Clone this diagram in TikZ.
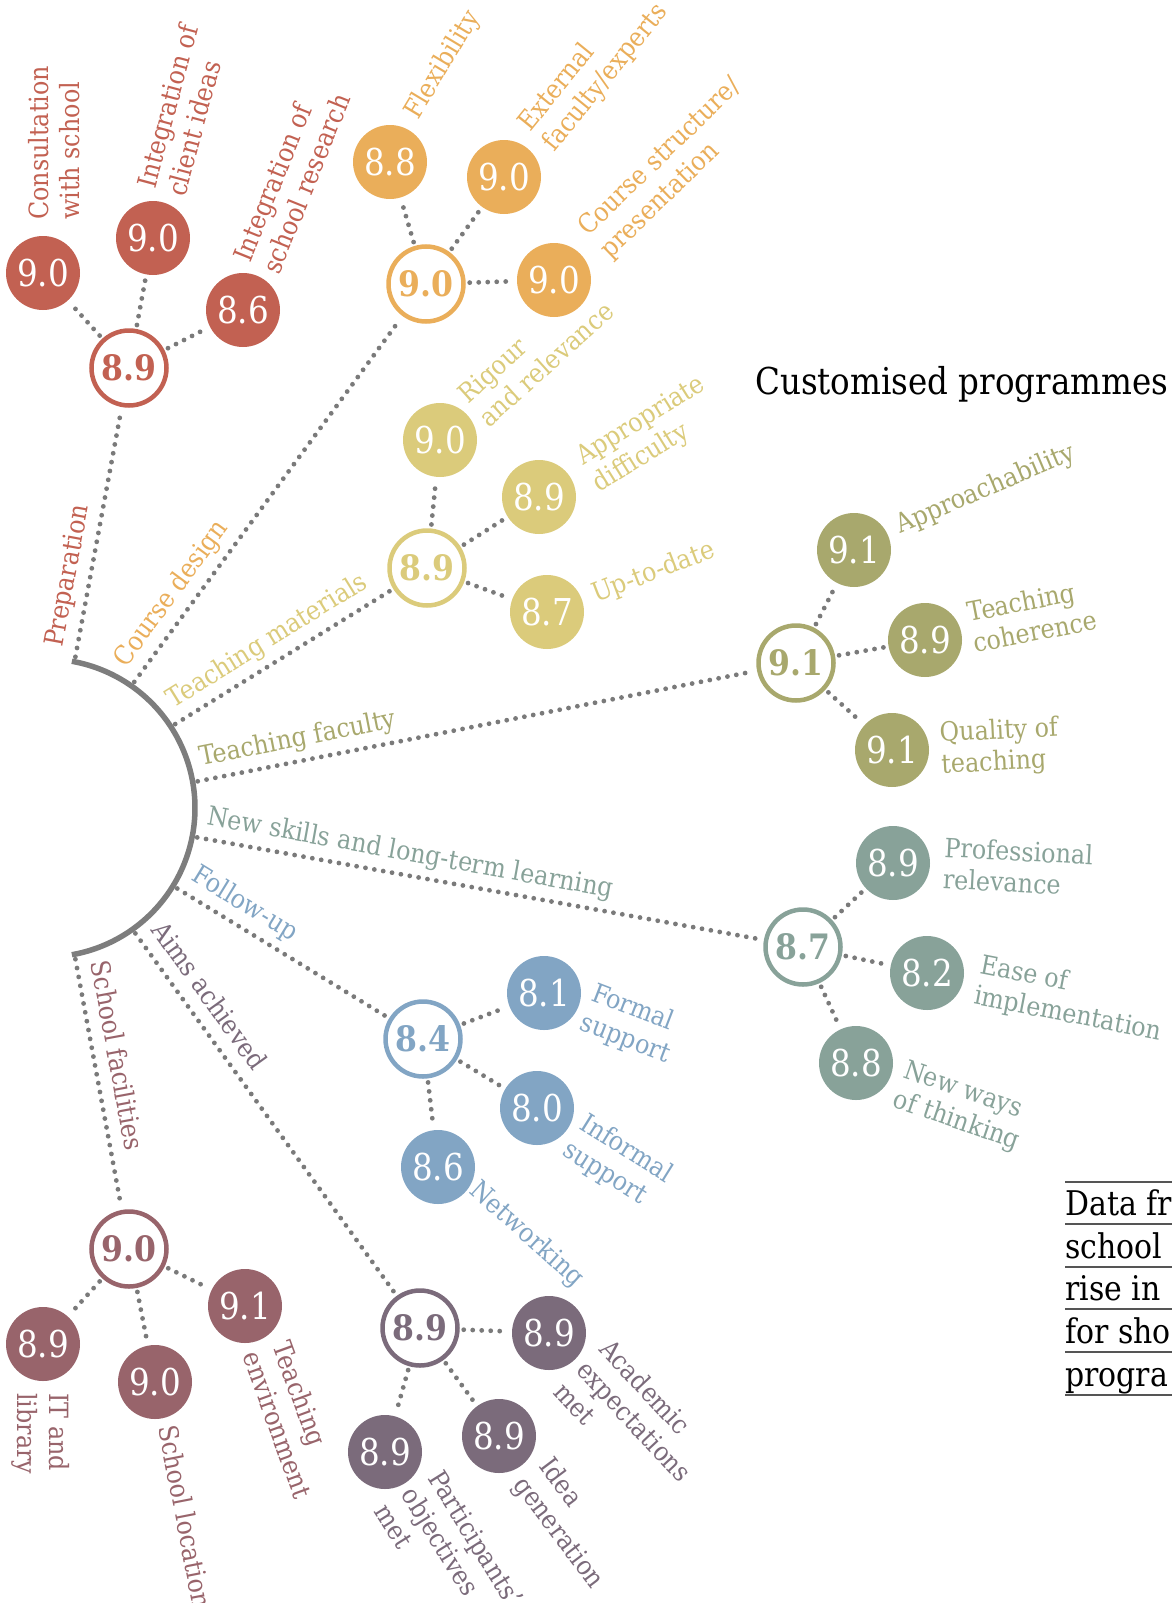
\documentclass[tikz,border=0pt]{standalone}
\usepackage{fontspec}
\setmainfont{DejaVu Serif}
\newfontfamily\labfont[FakeStretch=0.9]{DejaVu Serif}
\newfontfamily\numfontfam[FakeStretch=0.88]{DejaVu Serif}
\newfontfamily\hubfontfam[FakeStretch=0.9]{DejaVu Serif}
\newcommand\labsize{\fontsize{26.5}{31.5}\selectfont}
\newcommand\lab[1]{\begin{tabular}[t]{@{}l@{}}#1\end{tabular}}
\definecolor{cPrep}{HTML}{C26152}
\definecolor{cCourse}{HTML}{EAAE5A}
\definecolor{cMat}{HTML}{DBCB7B}
\definecolor{cFac}{HTML}{A8A86D}
\definecolor{cSkill}{HTML}{88A299}
\definecolor{cFollow}{HTML}{82A5C4}
\definecolor{cSchool}{HTML}{98646B}
\definecolor{cAims}{HTML}{7B6B7B}
\definecolor{dotgrey}{HTML}{7A7A7A}
\definecolor{arcgrey}{HTML}{7D7D7D}
\definecolor{rulegrey}{HTML}{555555}
\tikzset{
  dotline/.style={draw=dotgrey, line width=4.8pt, line cap=round, dash pattern=on 0pt off 9pt},
  twig/.style={dotline, shorten <=4pt, shorten >=4pt},
  limb/.style={dotline, shorten >=4pt},
  leaf/.style={circle, fill=#1, minimum size=74pt, inner sep=0pt, outer sep=0pt, text=white,
    font=\numfontfam\fontsize{37}{37}\selectfont},
  hubnode/.style={circle, draw=#1, line width=4.5pt, fill=white, minimum size=75pt, inner sep=0pt,
    text=#1, font=\hubfontfam\bfseries\fontsize{35}{35}\selectfont},
  lbl/.style={text=#1, font=\labfont\labsize, inner sep=0pt, anchor=base west},
  brlbl/.style={text=#1, font=\labfont\labsize, sloped, pos=0, anchor=south west,
    inner xsep=4pt, inner ysep=5pt, text depth=7pt},
  arcline/.style={draw=arcgrey, line width=5.5pt},
  rulel/.style={draw=rulegrey, line width=1.6pt},
}
\begin{document}
\begin{tikzpicture}[x=1pt, y=-1pt]
\useasboundingbox (0,0) rectangle (1172,1603);
\clip (0,0) rectangle (1172,1603);

% central arc
\draw[arcline] plot[domain=-80:80, samples=80, smooth] ({46+149*cos(\x)}, {808+149*sin(\x)});

% start points on the arc
\coordinate (s1) at (75.4,656.8);
\coordinate (s2) at (134.3,681.9);
\coordinate (s3) at (175.2,724.1);
\coordinate (s4) at (197.7,781.3);
\coordinate (s5) at (197.2,837.4);
\coordinate (s6) at (177.3,888.5);
\coordinate (s7) at (135.4,933.4);
\coordinate (s8) at (75.4,959.2);

% ---------- Preparation ----------
\node[hubnode=cPrep] (hA) at (129,368) {8.9};
\node[leaf=cPrep] (a1) at (43,273) {9.0};
\node[leaf=cPrep] (a2) at (153,238) {9.0};
\node[leaf=cPrep] (a3) at (243,310) {8.6};
\draw[twig] (hA) -- (a1);
\draw[twig] (hA) -- (a2);
\draw[twig] (hA) -- (a3);
\draw[limb] (s1) -- node[brlbl=cPrep] {Preparation} (hA);
\node[lbl=cPrep, rotate=90] (ta1) at (48,220) {\lab{Consultation\\with school}};
\node[lbl=cPrep, rotate=75] (ta2) at (155,190) {\lab{Integration of\\client ideas}};
\node[lbl=cPrep, rotate=68] (ta3) at (250,264) {\lab{Integration of\\school research}};

% ---------- Course design ----------
\node[hubnode=cCourse] (hB) at (426,284) {9.0};
\node[leaf=cCourse] (b1) at (390,162) {8.8};
\node[leaf=cCourse] (b2) at (504,177) {9.0};
\node[leaf=cCourse] (b3) at (554,280) {9.0};
\draw[twig] (hB) -- (b1);
\draw[twig] (hB) -- (b2);
\draw[twig] (hB) -- (b3);
\draw[limb] (s2) -- node[brlbl=cCourse] {Course design} (hB);
\node[lbl=cCourse, rotate=59] (tb1) at (418,121) {\lab{Flexibility}};
\node[lbl=cCourse, rotate=51] (tb2) at (530,133) {\lab{External\\faculty/experts}};
\node[lbl=cCourse, rotate=44] (tb3) at (588,237) {\lab{Course structure/\\presentation}};

% ---------- Teaching materials ----------
\node[hubnode=cMat] (hC) at (427,568) {8.9};
\node[leaf=cMat] (c1) at (440,440) {9.0};
\node[leaf=cMat] (c2) at (539,497) {8.9};
\node[leaf=cMat] (c3) at (547,612) {8.7};
\draw[twig] (hC) -- (c1);
\draw[twig] (hC) -- (c2);
\draw[twig] (hC) -- (c3);
\draw[limb] (s3) -- node[brlbl=cMat] {Teaching materials} (hC);
\node[lbl=cMat, rotate=42] (tc1) at (468,405) {\lab{Rigour\\and relevance}};
\node[lbl=cMat, rotate=32] (tc2) at (583,466) {\lab{Appropriate\\difficulty}};
\node[lbl=cMat, rotate=21] (tc3) at (596,603) {\lab{Up-to-date}};

% ---------- Teaching faculty ----------
\node[hubnode=cFac] (hD) at (796,663) {9.1};
\node[leaf=cFac] (d1) at (854,550) {9.1};
\node[leaf=cFac] (d2) at (925,640) {8.9};
\node[leaf=cFac] (d3) at (892,750) {9.1};
\draw[twig] (hD) -- (d1);
\draw[twig] (hD) -- (d2);
\draw[twig] (hD) -- (d3);
\draw[limb] (s4) -- node[brlbl=cFac] {Teaching faculty} (hD);
\node[lbl=cFac, rotate=23] (td1) at (900,534) {\lab{Approachability}};
\node[lbl=cFac, rotate=11] (td2) at (969,622) {\lab{Teaching\\coherence}};
\node[lbl=cFac, rotate=3] (td3) at (940,742) {\lab{Quality of\\teaching}};

% ---------- New skills ----------
\node[hubnode=cSkill] (hE) at (803,947) {8.7};
\node[leaf=cSkill] (e1) at (893,863) {8.9};
\node[leaf=cSkill] (e2) at (927,973) {8.2};
\node[leaf=cSkill] (e3) at (856,1063) {8.8};
\draw[twig] (hE) -- (e1);
\draw[twig] (hE) -- (e2);
\draw[twig] (hE) -- (e3);
\draw[limb] (s5) -- node[brlbl=cSkill] {New skills and long-term learning} (hE);
\node[lbl=cSkill, rotate=-3] (te1) at (944,857) {\lab{Professional\\relevance}};
\node[lbl=cSkill, rotate=-11] (te2) at (979,973) {\lab{Ease of\\implementation}};
\node[lbl=cSkill, rotate=-19] (te3) at (902,1077) {\lab{New ways\\of thinking}};

% ---------- Follow-up ----------
\node[hubnode=cFollow] (hF) at (423,1039) {8.4};
\node[leaf=cFollow] (f1) at (544,993) {8.1};
\node[leaf=cFollow] (f2) at (537,1108) {8.0};
\node[leaf=cFollow] (f3) at (438,1167) {8.6};
\draw[twig] (hF) -- (f1);
\draw[twig] (hF) -- (f2);
\draw[twig] (hF) -- (f3);
\draw[limb] (s6) -- node[brlbl=cFollow] {Follow-up} (hF);
\node[lbl=cFollow, rotate=-21] (tf1) at (590,1000) {\lab{Formal\\support}};
\node[lbl=cFollow, rotate=-32] (tf2) at (578,1128) {\lab{Informal\\support}};
\node[lbl=cFollow, rotate=-42] (tf3) at (468,1192) {\lab{Networking}};

% ---------- Aims achieved ----------
\node[hubnode=cAims] (hH) at (420,1328) {8.9};
\node[leaf=cAims] (h1) at (549,1333) {8.9};
\node[leaf=cAims] (h2) at (499,1436) {8.9};
\node[leaf=cAims] (h3) at (385,1452) {8.9};
\draw[twig] (hH) -- (h1);
\draw[twig] (hH) -- (h2);
\draw[twig] (hH) -- (h3);
\draw[limb] (s7) -- node[brlbl=cAims] {Aims achieved} (hH);
\node[lbl=cAims, rotate=-47] (th1) at (598,1350) {\lab{Academic\\expectations\\met}};
\node[lbl=cAims, rotate=-53] (th2) at (538,1466) {\lab{Idea\\generation}};
\node[lbl=cAims, rotate=-58] (th3) at (427,1478) {\lab{Participants’\\objectives\\met}};

% ---------- School facilities ----------
\node[hubnode=cSchool] (hG) at (129,1249) {9.0};
\node[leaf=cSchool] (g1) at (43,1344) {8.9};
\node[leaf=cSchool] (g2) at (155,1382) {9.0};
\node[leaf=cSchool] (g3) at (245,1306) {9.1};
\draw[twig] (hG) -- (g1);
\draw[twig] (hG) -- (g2);
\draw[twig] (hG) -- (g3);
\draw[limb] (s8) -- node[brlbl=cSchool] {School facilities} (hG);
\node[lbl=cSchool, rotate=-90] (tg1) at (49,1393) {\lab{IT and\\library}};
\node[lbl=cSchool, rotate=-79] (tg2) at (158,1427) {\lab{School location}};
\node[lbl=cSchool, rotate=-70] (tg3) at (272,1345) {\lab{Teaching\\environment}};

% ---------- Title ----------
\node[anchor=base west, inner sep=0pt, text=black, font=\numfontfam\fontsize{37}{37}\selectfont] (title) at (755,394) {Customised programmes};

% ---------- Side text ----------
\coordinate (r0) at (1065,1182);
\draw[rulel] (r0) -- (1172,1182);
\foreach \yy/\tx [count=\i] in {1215/Data fr, 1258/school, 1300/rise in, 1343/for sho, 1386/progra}{
  \node[anchor=base west, inner sep=0pt, text=black, font=\numfontfam\fontsize{34}{34}\selectfont] (dt\i) at (1065,\yy) {\tx};
  \draw[rulel] (1065,\yy+9) -- (1172,\yy+9);
}
\end{tikzpicture}
\end{document}
